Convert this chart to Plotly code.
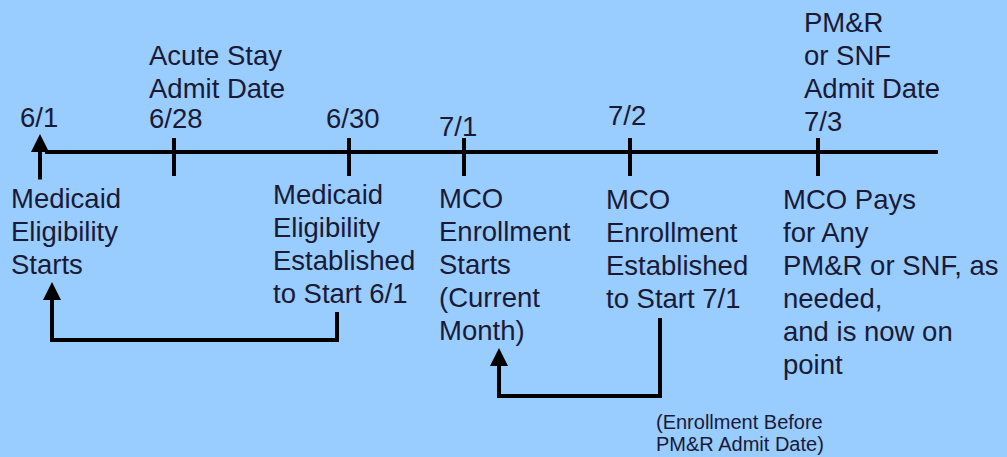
import plotly.graph_objects as go

# ---- data ----
date_labels = ["6/1", "6/28", "6/30", "7/1", "7/2", "7/3"]
date_label_x = [21, 150, 327, 440, 609, 805]
date_label_y = [117, 118, 118, 126, 115, 121]
tick_x = [40, 174, 349, 464, 630, 818]

above_texts = [
    ["Acute Stay", "Admit Date"],
    ["PM&R", "or SNF", "Admit Date"],
]
above_x = [150, 805]
above_y0 = [55, 22]

below_texts = [
    ["Medicaid", "Eligibility", "Starts"],
    ["Medicaid", "Eligibility", "Established", "to Start 6/1"],
    ["MCO", "Enrollment", "Starts", "(Current", "Month)"],
    ["MCO", "Enrollment", "Established", "to Start 7/1"],
    ["MCO Pays", "for Any", "PM&R or SNF, as", "needed,", "and is now on", "point"],
]
below_x = [12, 274, 440, 607, 784]
below_y0 = [198, 194, 198, 199, 199]

note_lines = ["(Enrollment Before", "PM&R Admit Date)"]
note_x = 657
note_y0 = 422

bracket1 = {"x": [337, 337, 52, 52], "y": [312, 340, 340, 290]}
bracket2 = {"x": [660, 660, 499, 499], "y": [318, 396, 396, 356]}
bracket_heads = [(52, 282), (499, 348)]

timeline_x = [45, 938]
timeline_y = 152
tick_top, tick_bot = 138, 176

# ---- styles ----
BG = "#99CCFF"
TXT = "#1a1a36"
FONT = "Liberation Sans, Arial, sans-serif"
FS = 27.5
LS = 33
DX = -3  # annotation inner padding compensation

fig = go.Figure()

# timeline
fig.add_trace(go.Scatter(x=timeline_x, y=[timeline_y, timeline_y], mode="lines",
                         line=dict(color="black", width=4), hoverinfo="skip"))
# ticks (skip first which is an arrow)
for tx in tick_x[1:]:
    fig.add_trace(go.Scatter(x=[tx, tx], y=[tick_top, tick_bot], mode="lines",
                             line=dict(color="black", width=4), hoverinfo="skip"))

# brackets
for b in (bracket1, bracket2):
    fig.add_trace(go.Scatter(x=b["x"], y=b["y"], mode="lines",
                             line=dict(color="black", width=4), hoverinfo="skip"))

annotations = []
# 6/1 arrow
annotations.append(dict(x=tick_x[0], y=134, ax=tick_x[0], ay=181, xref="x", yref="y",
                        axref="x", ayref="y", showarrow=True, arrowhead=2, arrowsize=0.9,
                        arrowwidth=4, arrowcolor="black", text=""))
for (hx, hy), b in zip(bracket_heads, (bracket1, bracket2)):
    annotations.append(dict(x=hx, y=hy, ax=hx, ay=b["y"][-1] + 4, xref="x", yref="y",
                            axref="x", ayref="y", showarrow=True, arrowhead=2, arrowsize=0.9,
                            arrowwidth=4, arrowcolor="black", text=""))

def txt(x, y, s, size=FS):
    return dict(x=x + DX, y=y, xref="x", yref="y", text=s, showarrow=False,
                xanchor="left", yanchor="middle",
                font=dict(family=FONT, size=size, color=TXT))

for s, x, y in zip(date_labels, date_label_x, date_label_y):
    annotations.append(txt(x, y, s))
for lines, x, y0 in zip(above_texts, above_x, above_y0):
    for i, s in enumerate(lines):
        annotations.append(txt(x, y0 + i * LS, s))
for lines, x, y0 in zip(below_texts, below_x, below_y0):
    for i, s in enumerate(lines):
        annotations.append(txt(x, y0 + i * LS, s))
for i, s in enumerate(note_lines):
    annotations.append(txt(note_x, note_y0 + i * 22, s, size=20))

fig.update_layout(
    width=1007, height=457,
    margin=dict(l=0, r=0, t=0, b=0),
    paper_bgcolor=BG, plot_bgcolor=BG,
    showlegend=False,
    xaxis=dict(range=[0, 1007], visible=False, fixedrange=True),
    yaxis=dict(range=[457, 0], visible=False, fixedrange=True),
    annotations=annotations,
)

fig.write_html("out.html", config={"displayModeBar": False},
               post_script="document.body.style.margin='0';document.body.style.overflow='hidden';")
